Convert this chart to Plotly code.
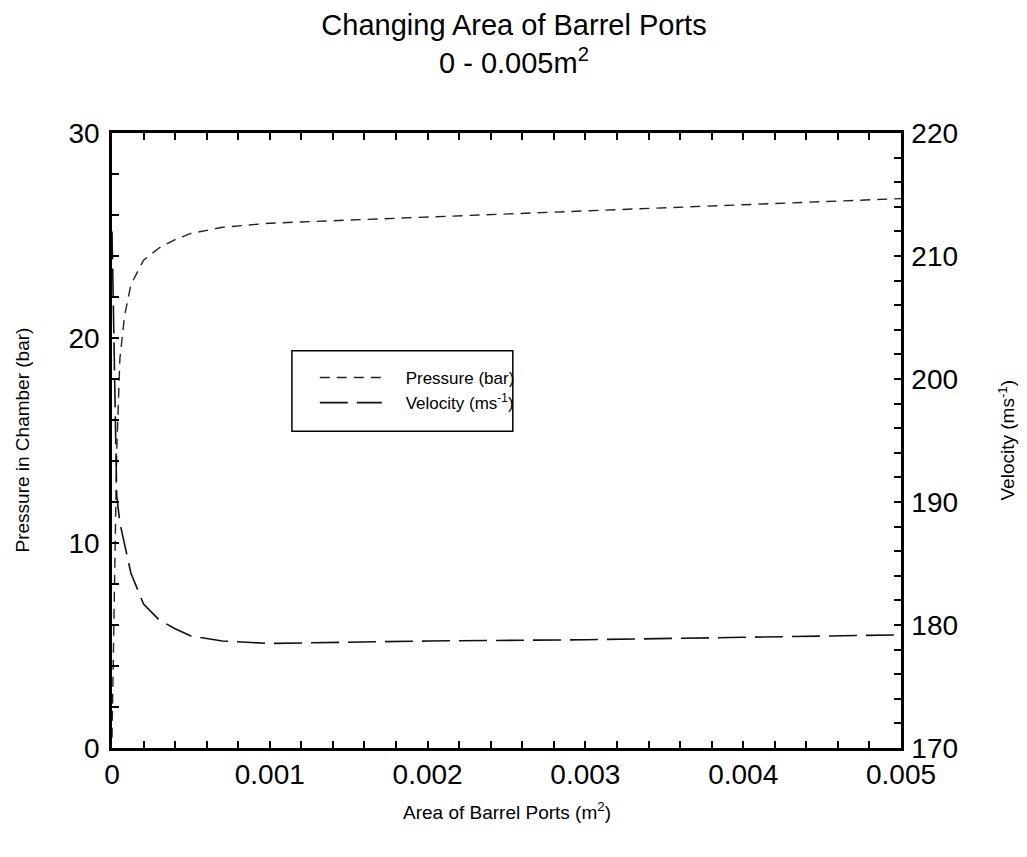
import plotly.graph_objects as go

area = [0, 0.00001, 0.00002, 0.00003, 0.00005, 0.00008, 0.00012, 0.0002,
        0.0003, 0.0004, 0.0005, 0.0007, 0.001, 0.002, 0.003, 0.004, 0.005]
pressure = [0.5, 6, 11, 14.5, 19, 21.1, 22.6, 23.8,
            24.4, 24.8, 25.1, 25.4, 25.6, 25.9, 26.2, 26.5, 26.8]
velocity = [212, 205, 196, 190.5, 188.3, 186.5, 184.2, 181.7,
            180.4, 179.7, 179.1, 178.7, 178.5, 178.7, 178.8, 179.0, 179.2]

font = 'Liberation Sans, Arial, sans-serif'
pad = '\u00a0' * 4  # push legend text away from the line sample

fig = go.Figure()
fig.add_trace(go.Scatter(
    x=area, y=pressure, mode='lines', name=pad + 'Pressure (bar)',
    line=dict(color='#222', width=1.4, dash='10px,7px'),
))
fig.add_trace(go.Scatter(
    x=area, y=velocity, mode='lines', name=pad + 'Velocity (ms<sup>-1</sup>)',
    yaxis='y2',
    line=dict(color='#111', width=1.6, dash='28px,9px'),
))

minor = dict(ticks='inside', ticklen=7, tickcolor='black', tickwidth=1.5)
axis_common = dict(
    showgrid=False, zeroline=False, showline=True, linecolor='black',
    linewidth=2.5, ticks='inside', ticklen=7, tickwidth=1.5, tickcolor='black',
    tickfont=dict(size=28, color='black'), automargin=False,
)

fig.update_layout(
    width=1027, height=857,
    margin=dict(l=104, r=134, t=125, b=117),
    paper_bgcolor='white', plot_bgcolor='white',
    font=dict(family=font, color='black'),
    title=dict(
        text='Changing Area of Barrel Ports<br>0 - 0.005m<sup>2</sup>',
        x=0.4927, xanchor='center', xref='container', y=0.968, yanchor='top',
        font=dict(size=29, color='black'),
    ),
    xaxis=dict(
        **axis_common, range=[0, 0.005], dtick=0.001, tickformat='~g',
        mirror='ticks', minor=dict(dtick=0.0002, **minor),
    ),
    yaxis=dict(
        **axis_common, range=[0, 30], dtick=10, ticklabelstandoff=4,
        minor=dict(dtick=2, **minor),
    ),
    yaxis2=dict(
        **axis_common, range=[170, 220], dtick=10, overlaying='y', side='right',
        ticklabelstandoff=2, minor=dict(dtick=2, **minor),
    ),
    legend=dict(
        x=0.257, y=0.631, xanchor='left', yanchor='top',
        borderwidth=0, bgcolor='rgba(0,0,0,0)',
        font=dict(size=17, color='black'),
        itemwidth=62, tracegroupgap=0,
    ),
    shapes=[dict(
        type='rect', xref='paper', yref='paper',
        x0=0.228, x1=0.508, y0=0.515, y1=0.646,
        line=dict(color='black', width=1.5), fillcolor='rgba(0,0,0,0)',
    )],
    annotations=[
        dict(text='Area of Barrel Ports (m<sup>2</sup>)', xref='paper', yref='paper',
             x=0.5, y=0, yshift=-63, xanchor='center', yanchor='middle',
             showarrow=False, font=dict(size=19)),
        dict(text='Pressure in Chamber (bar)', xref='paper', yref='paper',
             x=0, y=0.5, xshift=-90, xanchor='center', yanchor='middle',
             textangle=-90, showarrow=False, font=dict(size=19)),
        dict(text='Velocity (ms<sup>-1</sup>)', xref='paper', yref='paper',
             x=1, y=0.5, xshift=105, xanchor='center', yanchor='middle',
             textangle=-90, showarrow=False, font=dict(size=19)),
    ],
)

fig.write_html("out.html")
